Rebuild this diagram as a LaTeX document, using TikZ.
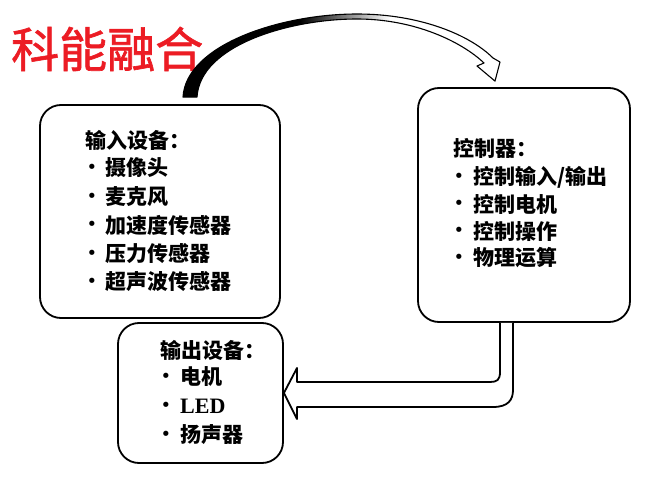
\documentclass[tikz,border=0pt]{standalone}
\usepackage{fontspec}
\newfontfamily\cjk{Noto Sans CJK SC}
\newfontfamily\cjkt{Noto Sans CJK SC}[FakeBold=1.3]
\newfontfamily\serf{Liberation Serif}
\newfontfamily\dv{DejaVu Sans}
\usetikzlibrary{calc}
\definecolor{titlered}{RGB}{236,28,36}
\begin{document}
\begin{tikzpicture}[x=1pt,y=-1pt,
  box/.style={draw,line width=1.8pt,rounded corners=21pt,inner sep=0pt},
  txt/.style={anchor=west,inner sep=0pt,font=\cjk\bfseries\fontsize{21}{25}\selectfont},
  bul/.style={anchor=center,inner sep=0pt,font=\dv\fontsize{18}{20}\selectfont},
  hollow/.style={line width=1.8pt,fill=white,line join=round}]
\fill[white] (0,0) rectangle (653,484);
\useasboundingbox (0,0) rectangle (653,484);

% title
\node[anchor=west,inner sep=0pt,text=titlered,font=\cjkt\fontsize{48}{50}\selectfont] (title) at (11,49) {科能融合};

% boxes
\node[box,minimum width=240pt,minimum height=213pt] (in) at (160,211.5) {};
\node[box,minimum width=212pt,minimum height=234pt] (ctrl) at (524,205) {};
\node[box,minimum width=165pt,minimum height=140pt] (out) at (200.5,393) {};

% input texts
\node[txt] (inT) at (85,140) {输入设备：};
\node[bul] (inB1) at (92,169) {•}; \node[txt] (in1) at (105,168) {摄像头};
\node[bul] (inB2) at (92,198) {•}; \node[txt] (in2) at (105,197) {麦克风};
\node[bul] (inB3) at (92,226) {•}; \node[txt] (in3) at (105,225) {加速度传感器};
\node[bul] (inB4) at (92,255) {•}; \node[txt] (in4) at (105,254) {压力传感器};
\node[bul] (inB5) at (92,283) {•}; \node[txt] (in5) at (105,282) {超声波传感器};

% controller texts
\node[txt] (cT) at (453,148) {控制器：};
\node[bul] (cB1) at (459,178) {•}; \node[txt] (c1) at (473,177) {控制输入/输出};
\node[bul] (cB2) at (459,205) {•}; \node[txt] (c2) at (473,204) {控制电机};
\node[bul] (cB3) at (459,232) {•}; \node[txt] (c3) at (473,231) {控制操作};
\node[bul] (cB4) at (459,259) {•}; \node[txt] (c4) at (473,258) {物理运算};

% output texts
\node[txt] (oT) at (160,350) {输出设备：};
\node[bul] (oB1) at (166,378) {•}; \node[txt] (o1) at (180,377) {电机};
\node[bul] (oB2) at (166,407) {•}; \node[txt,font=\serf\bfseries\fontsize{22}{25}\selectfont] (o2) at (180,406) {LED};
\node[bul] (oB3) at (166,436) {•}; \node[txt] (o3) at (180,435) {扬声器};

% curved arrow input -> controller
\coordinate (aS1) at ($(in.north)+(23,-7)$);
\coordinate (aS2) at ($(in.north)+(37,-7)$);
\coordinate (aT) at ($(ctrl.north)+(-29,-6)$);
\begin{scope}
\clip (aS1) .. controls (186,45) and (280,14) .. (357,14) .. controls (420,14) and (470,35) .. (493,58)
  -- (500,62) -- (aT) -- (477,66) -- (484,63) .. controls (462,42) and (415,19) .. (357,19)
  .. controls (290,19) and (200,45) .. (aS2) -- cycle;
\fill[black] (150,0) rectangle (300,120);
\shade[left color=black,right color=white] (300,0) rectangle (390,120);
\end{scope}
\draw[line width=1.1pt,line join=round] (aS1) .. controls (186,45) and (280,14) .. (357,14) .. controls (420,14) and (470,35) .. (493,58)
  -- (500,62) -- (aT) -- (477,66) -- (484,63) .. controls (462,42) and (415,19) .. (357,19)
  .. controls (290,19) and (200,45) .. (aS2) -- cycle;

% hollow arrow controller -> output
\coordinate (bS1) at ($(ctrl.south)+(-24,0)$);
\coordinate (bS2) at ($(ctrl.south)+(-11,0)$);
\draw[hollow] (bS1) -- (500,372) .. controls (500,380) and (497,382) .. (490,382) -- (297,382) -- (297,368)
  -- (out.east) -- (297,419) -- (297,407) -- (493,407) .. controls (508,407) and (513,400) .. (513,390) -- (bS2);
\end{tikzpicture}
\end{document}
